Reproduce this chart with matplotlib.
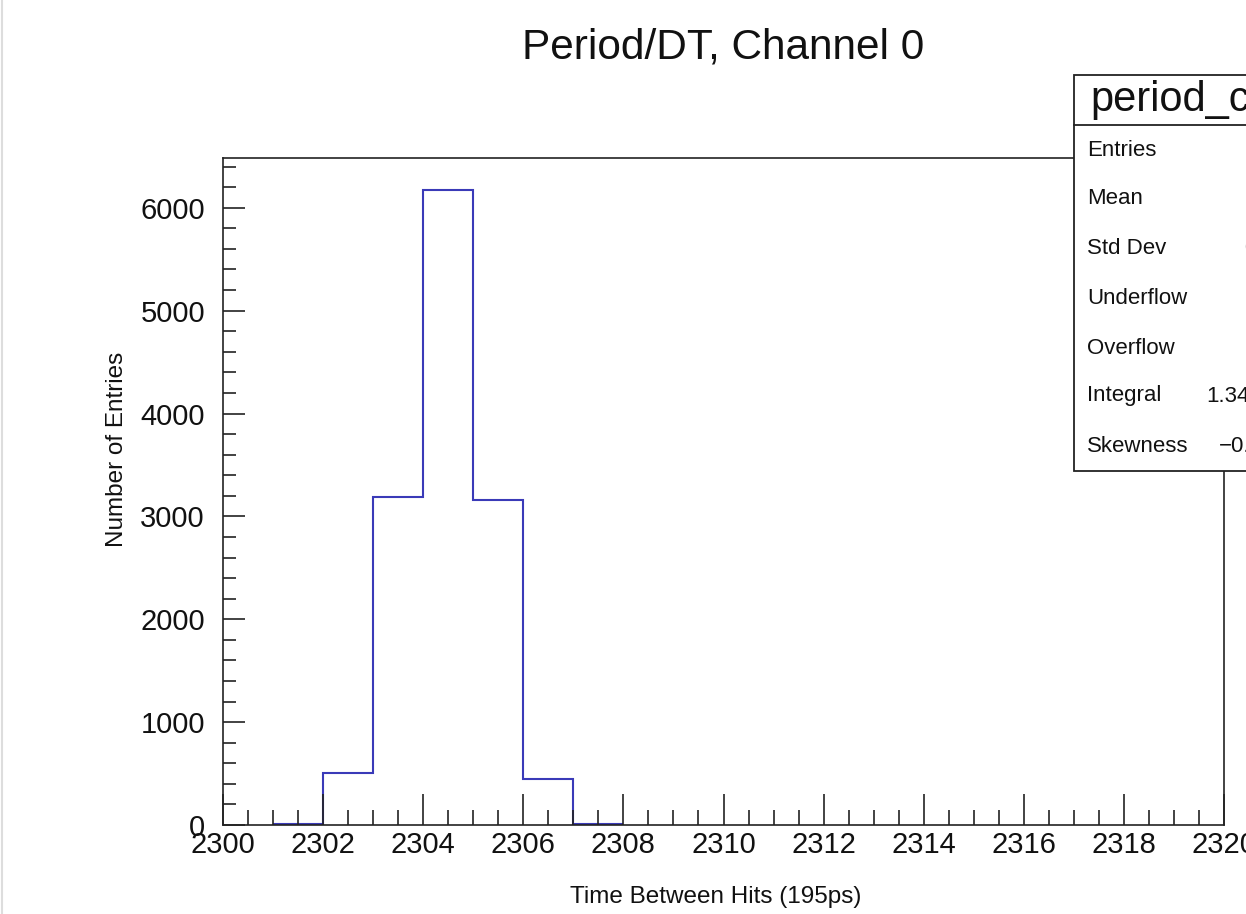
import matplotlib
matplotlib.use("Agg")
import matplotlib.pyplot as plt
from matplotlib.patches import Rectangle
from matplotlib.ticker import MultipleLocator
import numpy as np

plt.rcParams['font.family'] = ['Liberation Sans', 'DejaVu Sans']

# ---- data ----
bin_edges = [2301, 2302, 2303, 2304, 2305, 2306, 2307, 2308]
counts = [6, 510, 3190, 6175, 3160, 450, 5]
title = "Period/DT, Channel 0"
xlabel = "Time Between Hits (195ps)"
ylabel = "Number of Entries"
stats_name = "period_ch0"
stats_labels = ["Entries", "Mean", "Std Dev", "Underflow", "Overflow", "Integral", "Skewness"]
stats_values = ["13496", "2304", "0.8869", "0", "0", "1.349e+04", "\u22120.01077"]

W, H = 1246, 914
fig = plt.figure(figsize=(W / 100, H / 100), dpi=100)
fig.patch.set_facecolor('white')

def fx(px):
    return px / W

def fy(py):
    return 1 - py / H

L, R, T, B = 223, 1224, 158, 825
ax = fig.add_axes([fx(L), fy(B), fx(R) - fx(L), fy(T) - fy(B)])

ax.stairs(counts, bin_edges, color='#3a3ab8', linewidth=1.5, baseline=None)
ax.set_xlim(2300, 2320)
ax.set_ylim(0, max(counts) * 1.05)

ax.xaxis.set_major_locator(MultipleLocator(2))
ax.xaxis.set_minor_locator(MultipleLocator(0.5))
ax.yaxis.set_major_locator(MultipleLocator(1000))
ax.yaxis.set_minor_locator(MultipleLocator(200))
ax.tick_params(axis='x', which='major', direction='in', length=22, width=1.2,
               labelsize=21, pad=4, color='#222222')
ax.tick_params(axis='x', which='minor', direction='in', length=11, width=1.2, color='#222222')
ax.tick_params(axis='y', which='major', direction='in', length=16, width=1.2,
               labelsize=21, pad=13, color='#222222')
ax.tick_params(axis='y', which='minor', direction='in', length=9, width=1.2, color='#222222')
for s in ax.spines.values():
    s.set_linewidth(1.2)
    s.set_color('#222222')
ax.tick_params(labelcolor='#111111')

fig.text(fx(723), fy(47), title, ha='center', va='center', fontsize=30.5, color='#111111')
fig.text(fx(716), fy(897), xlabel, ha='center', va='center', fontsize=17.5, color='#111111')
fig.text(fx(117), fy(449), ylabel, ha='center', va='center', rotation=90, fontsize=17.5, color='#111111')

# stats box
bx0, by0, by1 = 1074, 75, 471
box = Rectangle((fx(bx0), fy(by1)), fx(W + 60) - fx(bx0), fy(by0) - fy(by1),
                transform=fig.transFigure, facecolor='white', edgecolor='#222222',
                linewidth=1.3, zorder=5)
fig.add_artist(box)
fig.add_artist(plt.Line2D([fx(bx0), fx(W + 60)], [fy(125), fy(125)],
                          transform=fig.transFigure, color='#222222', linewidth=1.3, zorder=6))
fig.text(fx(1090), fy(100), stats_name, ha='left', va='center', fontsize=30,
         color='#111111', zorder=7)
rows_y = [150, 199, 248, 299, 348, 396, 447]
for lab, val, yy in zip(stats_labels, stats_values, rows_y):
    fig.text(fx(1087), fy(yy), lab, ha='left', va='center', fontsize=16,
             color='#111111', zorder=7)
    fig.text(fx(1312), fy(yy), val, ha='right', va='center', fontsize=16,
             color='#111111', zorder=7)

# faint left border
fig.add_artist(plt.Line2D([fx(2.5), fx(2.5)], [0, 1], transform=fig.transFigure,
                          color='#dddddd', linewidth=1.5))

fig.savefig('out.png', dpi=100)
